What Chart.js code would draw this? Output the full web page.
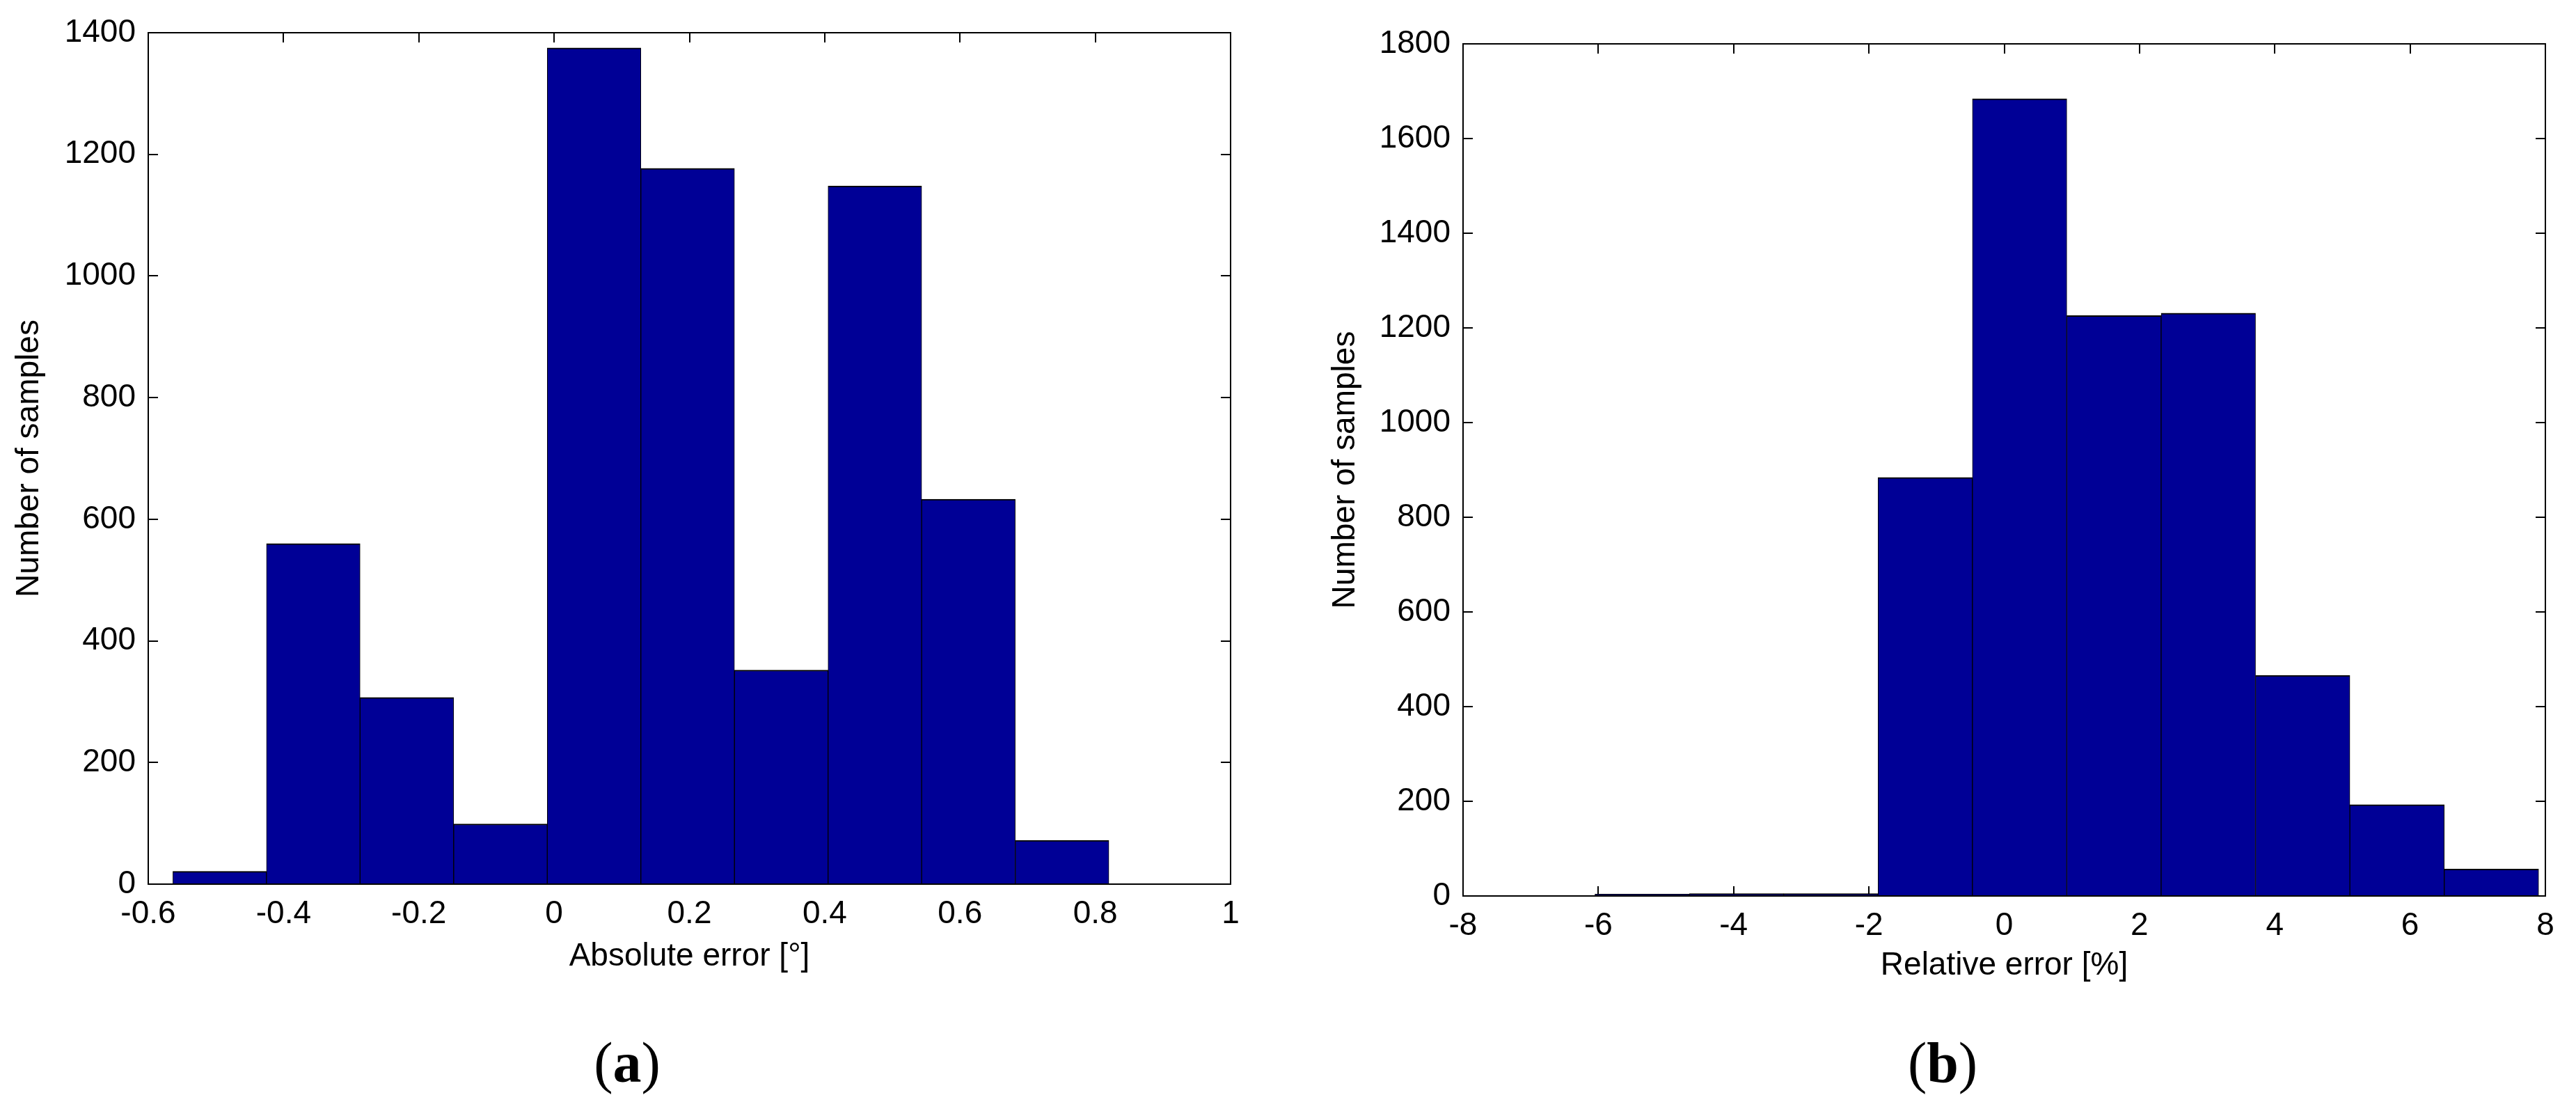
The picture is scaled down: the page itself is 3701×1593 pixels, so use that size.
<!DOCTYPE html>
<html><head><meta charset="utf-8">
<script src="https://cdn.jsdelivr.net/npm/chart.js@4.4.1/dist/chart.umd.min.js"></script>
<style>
html,body{margin:0;padding:0;background:#fff;width:3701px;height:1593px;overflow:hidden}
canvas{position:absolute;top:0}
.lab{position:absolute;font-family:"Liberation Serif","Times New Roman",serif;font-size:82px;color:#000;line-height:1;transform:translateX(-50%);white-space:nowrap}
.lab b{font-weight:bold}
</style></head><body>
<canvas id="ca" width="1850" height="1593" style="left:0"></canvas>
<canvas id="cb" width="1851" height="1593" style="left:1850px"></canvas>
<div class="lab" style="left:901px;top:1486px">(<b>a</b>)</div>
<div class="lab" style="left:2791px;top:1486px">(<b>b</b>)</div>
<script>
// ---------- Panel (a): absolute error ----------
const absBinEdges = [-0.5636,-0.4252,-0.2869,-0.1485,-0.0101,0.1282,0.2666,0.4050,0.5433,0.6817,0.8201];
const absCounts   = [21,560,307,99,1375,1177,352,1148,633,72];
const absXTicks   = [-0.6,-0.4,-0.2,0,0.2,0.4,0.6,0.8,1];
const absXLabels  = ['-0.6','-0.4','-0.2','0','0.2','0.4','0.6','0.8','1'];
const absYTicks   = [0,200,400,600,800,1000,1200,1400];
const absYLabels  = ['0','200','400','600','800','1000','1200','1400'];

// ---------- Panel (b): relative error ----------
const relBinEdges = [-6.05,-4.655,-3.26,-1.865,-0.47,0.925,2.32,3.715,5.11,6.505,7.90];
const relCounts   = [4,5,5,884,1684,1226,1231,466,193,57];
const relXTicks   = [-8,-6,-4,-2,0,2,4,6,8];
const relXLabels  = ['-8','-6','-4','-2','0','2','4','6','8'];
const relYTicks   = [0,200,400,600,800,1000,1200,1400,1600,1800];
const relYLabels  = ['0','200','400','600','800','1000','1200','1400','1600','1800'];

const yTitle = 'Number of samples';
const absXTitle = 'Absolute error [°]';
const relXTitle = 'Relative error [%]';

const BAR_FILL = 'rgb(0,0,150)';
const FONT = {family:'"Liberation Sans", Arial, Helvetica, sans-serif', size:46, weight:'normal', lineHeight:1.2};

const boxPlugin = {
  id:'matlabBox',
  beforeDatasetsDraw(chart){
    const {ctx, chartArea:a, scales} = chart;
    const L = 14;
    ctx.save();
    ctx.strokeStyle = '#000'; ctx.lineWidth = 2;
    ctx.beginPath();
    scales.x.ticks.forEach(t=>{
      const p = Math.round(scales.x.getPixelForValue(t.value));
      ctx.moveTo(p, a.bottom); ctx.lineTo(p, a.bottom-L);
      ctx.moveTo(p, a.top); ctx.lineTo(p, a.top+L);
    });
    scales.y.ticks.forEach(t=>{
      const p = Math.round(scales.y.getPixelForValue(t.value));
      ctx.moveTo(a.left, p); ctx.lineTo(a.left+L, p);
      ctx.moveTo(a.right, p); ctx.lineTo(a.right-L, p);
    });
    ctx.stroke();
    ctx.restore();
  },
  afterDatasetsDraw(chart){
    const {ctx, chartArea:a} = chart;
    ctx.save();
    ctx.strokeStyle = '#000'; ctx.lineWidth = 2;
    ctx.strokeRect(a.left, a.top, a.right-a.left, a.bottom-a.top);
    ctx.restore();
  }
};

function makeHist(id, edges, counts, xTicks, xLabels, yTicks, yLabels, xTitle, g){
  const pts = counts.map((c,i)=>({x:(edges[i]+edges[i+1])/2, y:c}));
  return new Chart(document.getElementById(id), {
    type:'bar',
    data:{datasets:[{
      data:pts, backgroundColor:BAR_FILL, borderColor:'#000',
      borderWidth:{top:2,left:1,right:1,bottom:0}, borderSkipped:'start',
      barPercentage:1, categoryPercentage:1
    }]},
    options:{
      responsive:false, animation:false, devicePixelRatio:1,
      layout:{padding:{left:0,right:g.padRight,top:g.top,bottom:0}},
      plugins:{legend:{display:false}, tooltip:{enabled:false}, title:{display:false}},
      scales:{
        x:{
          type:'linear', min:xTicks[0], max:xTicks[xTicks.length-1], offset:false,
          afterBuildTicks:s=>{ s.ticks = xTicks.map(v=>({value:v})); },
          afterFit:s=>{ s.height = g.xAxisH; },
          grid:{display:false, drawTicks:false, offset:false}, border:{display:false},
          ticks:{color:'#000', font:FONT, padding:g.xTickPad, maxRotation:0, minRotation:0, autoSkip:false,
                 callback:(v)=>{ const i = xTicks.findIndex(t=>Math.abs(t-v)<1e-9); return i>=0 ? xLabels[i] : ''; }},
          title:{display:true, text:xTitle, color:'#000', font:FONT, padding:{top:0,bottom:g.xTitlePad}}
        },
        y:{
          type:'linear', min:yTicks[0], max:yTicks[yTicks.length-1],
          afterBuildTicks:s=>{ s.ticks = yTicks.map(v=>({value:v})); },
          afterFit:s=>{ s.width = g.yAxisW; },
          grid:{display:false, drawTicks:false}, border:{display:false},
          ticks:{color:'#000', font:FONT, padding:18, autoSkip:false,
                 callback:(v)=>{ const i = yTicks.indexOf(v); return i>=0 ? yLabels[i] : ''; }},
          title:{display:true, text:yTitle, color:'#000', font:FONT, padding:{top:g.yTitlePad,bottom:0}}
        }
      }
    },
    plugins:[boxPlugin]
  });
}

makeHist('ca', absBinEdges, absCounts, absXTicks, absXLabels, absYTicks, absYLabels, absXTitle,
  {top:47, padRight:1850-1768, xAxisH:1593-1270, yAxisW:213, xTickPad:16, xTitlePad:191, yTitlePad:15});
makeHist('cb', relBinEdges, relCounts, relXTicks, relXLabels, relYTicks, relYLabels, relXTitle,
  {top:63, padRight:1851-1807, xAxisH:1593-1287, yAxisW:252, xTickPad:16, xTitlePad:178, yTitlePad:56});
</script>
</body></html>
